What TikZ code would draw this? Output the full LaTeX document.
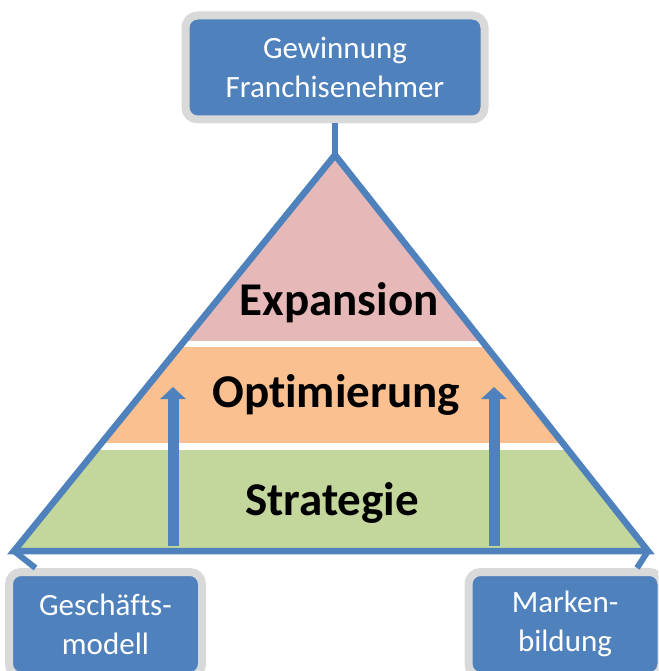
\documentclass[tikz,border=0pt]{standalone}
\usepackage{xcolor}
\usepackage{fontspec}
\setmainfont{Carlito}[Ligatures=NoCommon]
\usetikzlibrary{arrows.meta, positioning}

\definecolor{boxblue}{HTML}{4F81BD}
\definecolor{rimgray}{HTML}{D9D9D9}
\definecolor{pinkband}{HTML}{E6B9B8}
\definecolor{orangeband}{HTML}{FAC090}
\definecolor{greenband}{HTML}{C3D69B}

\begin{document}
\begin{tikzpicture}[x=1pt,y=-1pt]
        \useasboundingbox (0,0) rectangle (658,671);
        \clip (0,0) rectangle (658,671);
        \coordinate (apex) at (335,155);
        \coordinate (left) at (14,551);
        \coordinate (right) at (648,551);
        % pyramid bands
        \begin{scope}
          \clip (apex) -- (left) -- (right) -- cycle;
          \fill[pinkband] (0,140) rectangle (658,341);
          \fill[orangeband] (0,347) rectangle (658,443);
          \fill[greenband] (0,450) rectangle (658,552);
        \end{scope}
        \draw[boxblue,line width=6.5pt] (apex) -- (left) -- (right) -- cycle;
        % arrows up
        \coordinate (la) at (173,546);
        \coordinate (lb) at (173,387);
        \coordinate (ra) at (494,546);
        \coordinate (rb) at (494,387);
        \begin{scope}[every path/.style={draw=boxblue,line width=11pt,-{Triangle[width=25pt,length=12pt]}}]
          \path (la) -- (lb);
          \path (ra) -- (rb);
        \end{scope}
        \begin{scope}[every node/.style={anchor=base,font=\bfseries\fontsize{47}{56}\selectfont}]
          \node (expansion) at (339,315) {Expansion};
          \node (optimierung) at (336,407) {Optimierung};
          \node (strategie) at (332,515) {Strategie};
        \end{scope}
        \begin{scope}[every node/.style={draw=rimgray,line width=8pt,fill=boxblue,rounded corners=12pt,
            text=white,align=center,inner sep=0pt,minimum height=104pt,
            font=\fontsize{31}{39}\selectfont}]
          \node[minimum width=299pt] (gewinnung) at (335,67.5) {Gewinnung\\Franchisenehmer};
          \node[minimum width=193pt] (geschaeft) at (105.5,624) {Geschäfts-\\modell};
          \node[minimum width=193pt] (marke) at (565,624) {Marken-\\bildung};
        \end{scope}
        \begin{scope}[every edge/.style={draw=boxblue,line width=6pt}]
          \path (gewinnung) edge (apex);
          \path ([xshift=-70pt]geschaeft.north) edge (left);
          \path ([xshift=72pt]marke.north) edge (right);
        \end{scope}
      \end{tikzpicture}
\end{document}
